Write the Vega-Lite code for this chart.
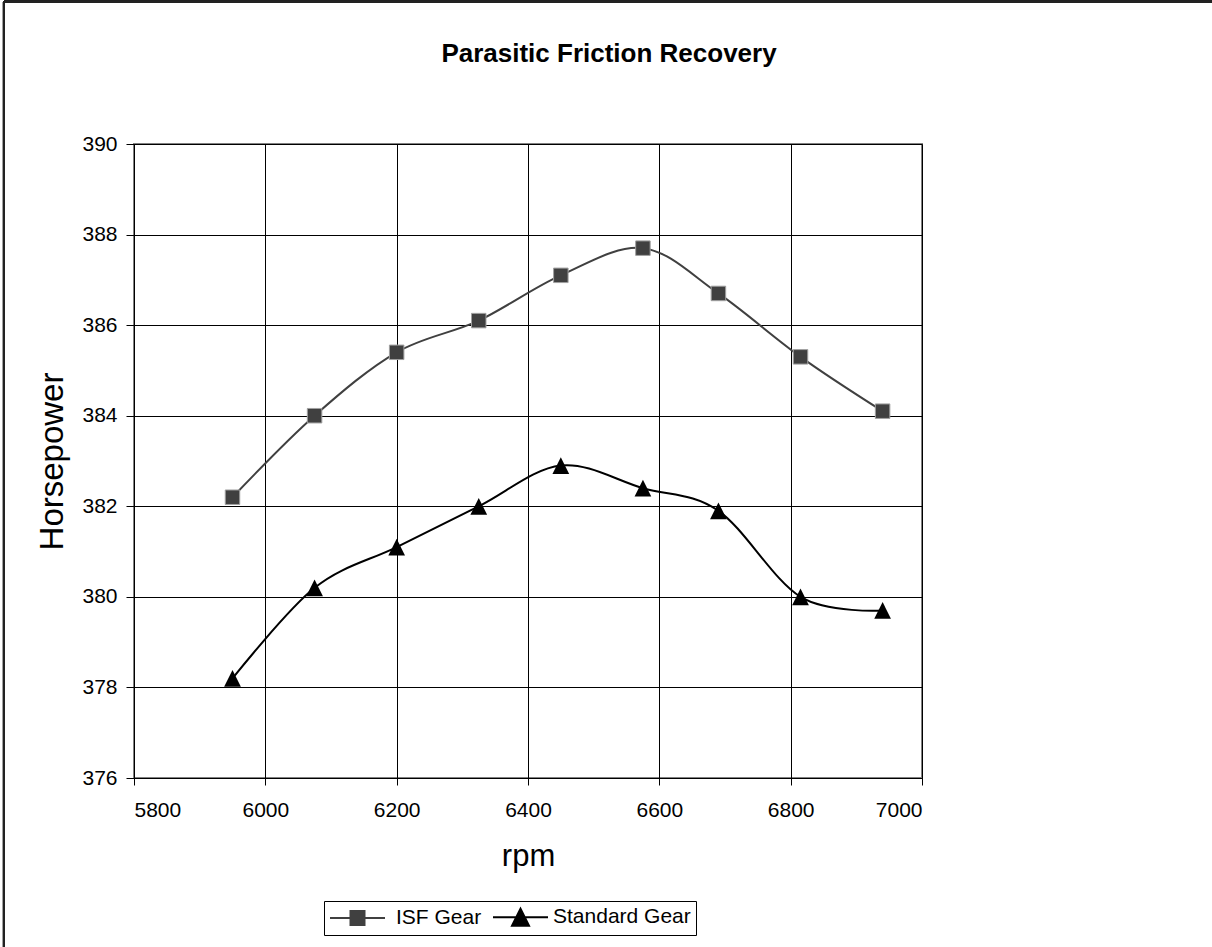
{
  "$schema": "https://vega.github.io/schema/vega-lite/v6.json",
  "width": 788,
  "height": 634,
  "autosize": {"type": "none"},
  "padding": {"left": 134, "top": 144, "right": 290, "bottom": 169},
  "background": "white",
  "title": {
    "text": "Parasitic Friction Recovery",
    "font": "Liberation Sans",
    "fontSize": 26,
    "fontWeight": "bold",
    "color": "black",
    "anchor": "middle",
    "baseline": "alphabetic",
    "dx": 81,
    "offset": -87
  },
  "datasets": {
    "hp": [
      {"rpm": 5950, "hp": 382.2, "series": "ISF Gear"},
      {"rpm": 6075, "hp": 384.0, "series": "ISF Gear"},
      {"rpm": 6200, "hp": 385.4, "series": "ISF Gear"},
      {"rpm": 6325, "hp": 386.1, "series": "ISF Gear"},
      {"rpm": 6450, "hp": 387.1, "series": "ISF Gear"},
      {"rpm": 6575, "hp": 387.7, "series": "ISF Gear"},
      {"rpm": 6690, "hp": 386.7, "series": "ISF Gear"},
      {"rpm": 6815, "hp": 385.3, "series": "ISF Gear"},
      {"rpm": 6940, "hp": 384.1, "series": "ISF Gear"},
      {"rpm": 5950, "hp": 378.2, "series": "Standard Gear"},
      {"rpm": 6075, "hp": 380.2, "series": "Standard Gear"},
      {"rpm": 6200, "hp": 381.1, "series": "Standard Gear"},
      {"rpm": 6325, "hp": 382.0, "series": "Standard Gear"},
      {"rpm": 6450, "hp": 382.9, "series": "Standard Gear"},
      {"rpm": 6575, "hp": 382.4, "series": "Standard Gear"},
      {"rpm": 6690, "hp": 381.9, "series": "Standard Gear"},
      {"rpm": 6815, "hp": 380.0, "series": "Standard Gear"},
      {"rpm": 6940, "hp": 379.7, "series": "Standard Gear"}
    ]
  },
  "data": {"name": "hp"},
  "encoding": {
    "x": {
      "field": "rpm",
      "type": "quantitative",
      "scale": {"domain": [5800, 7000], "nice": false, "zero": false},
      "axis": {
        "title": "rpm",
        "values": [5800, 6000, 6200, 6400, 6600, 6800, 7000],
        "format": "d",
        "tickSize": 7,
        "labelPadding": 14,
        "titleFontSize": 31,
        "titleFontWeight": "normal",
        "titleBaseline": "alphabetic",
        "titleY": 87,
        "titleX": 394,
        "titleAnchor": null
      }
    },
    "y": {
      "field": "hp",
      "type": "quantitative",
      "scale": {"domain": [376, 390], "nice": false, "zero": false},
      "axis": {
        "title": "Horsepower",
        "values": [376, 378, 380, 382, 384, 386, 388, 390],
        "tickSize": 8,
        "labelPadding": 9,
        "titleFontSize": 33,
        "titleFontWeight": "normal",
        "titleAngle": -90,
        "titleBaseline": "alphabetic",
        "titleAlign": "center",
        "titleX": -72,
        "titleY": 317
      }
    }
  },
  "layer": [
    {
      "mark": {"type": "rule", "color": "#222222", "strokeWidth": 2},
      "encoding": {
        "x": {"datum": 5602},
        "x2": {"datum": 7460},
        "y": {"datum": 393.14}
      }
    },
    {
      "mark": {"type": "rule", "color": "#222222", "strokeWidth": 2},
      "encoding": {
        "x": {"datum": 5602},
        "y": {"datum": 393.14},
        "y2": {"datum": 372}
      }
    },
    {
      "mark": {"type": "line", "interpolate": "cardinal", "tension": 0, "strokeWidth": 2},
      "encoding": {
        "color": {
          "field": "series",
          "type": "nominal",
          "scale": {"domain": ["ISF Gear", "Standard Gear"], "range": ["#404040", "#000000"]},
          "legend": {
            "title": null,
            "orient": "none",
            "direction": "horizontal",
            "legendX": 190,
            "legendY": 757,
            "padding": 5,
            "strokeColor": "#000000",
            "fillColor": "#ffffff",
            "labelFont": "Liberation Sans",
            "labelFontSize": 21,
            "labelColor": "#000000",
            "labelOffset": 45,
            "columnPadding": 7,
            "symbolSize": 400,
            "symbolStrokeWidth": 2,
            "encode": {
              "symbols": {
                "update": {
                  "shape": {"signal": "datum.value === 'ISF Gear' ? 'M-1,0H4.5M1.05,-0.7H2.45V0.7H1.05Z' : 'M-1,0H4.5M1.75,-0.85L2.6,0.85L0.9,0.85Z'"},
                  "size": {"value": 400},
                  "fill": {"signal": "datum.value === 'ISF Gear' ? '#404040' : '#000000'"},
                  "stroke": {"signal": "datum.value === 'ISF Gear' ? '#404040' : '#000000'"},
                  "strokeWidth": {"value": 2},
                  "opacity": {"value": 1},
                  "fillOpacity": {"value": 1},
                  "strokeOpacity": {"value": 1}
                }
              },
              "labels": {
                "update": {
                  "dx": {"signal": "datum.value === 'ISF Gear' ? 0 : -6"}
                }
              }
            }
          }
        }
      }
    },
    {
      "transform": [{"filter": "datum.series === 'ISF Gear'"}],
      "mark": {"type": "point", "shape": "square", "filled": true, "size": 210, "fill": "#404040", "stroke": "#a0a0a0", "strokeWidth": 1, "opacity": 1}
    },
    {
      "transform": [{"filter": "datum.series === 'Standard Gear'"}],
      "mark": {"type": "point", "shape": "M0,-1L1,1L-1,1Z", "filled": true, "size": 280, "fill": "#000000", "opacity": 1}
    }
  ],
  "config": {
    "font": "Liberation Sans",
    "view": {"stroke": "#808080", "strokeWidth": 2},
    "axis": {
      "labelFont": "Liberation Sans",
      "labelFontSize": 21,
      "labelColor": "#000000",
      "titleFont": "Liberation Sans",
      "titleColor": "#000000",
      "domainColor": "#000000",
      "domainWidth": 1,
      "tickColor": "#000000",
      "tickWidth": 1,
      "gridColor": "#000000",
      "gridWidth": 1,
      "gridOpacity": 1,
      "labelOverlap": false
    }
  }
}
